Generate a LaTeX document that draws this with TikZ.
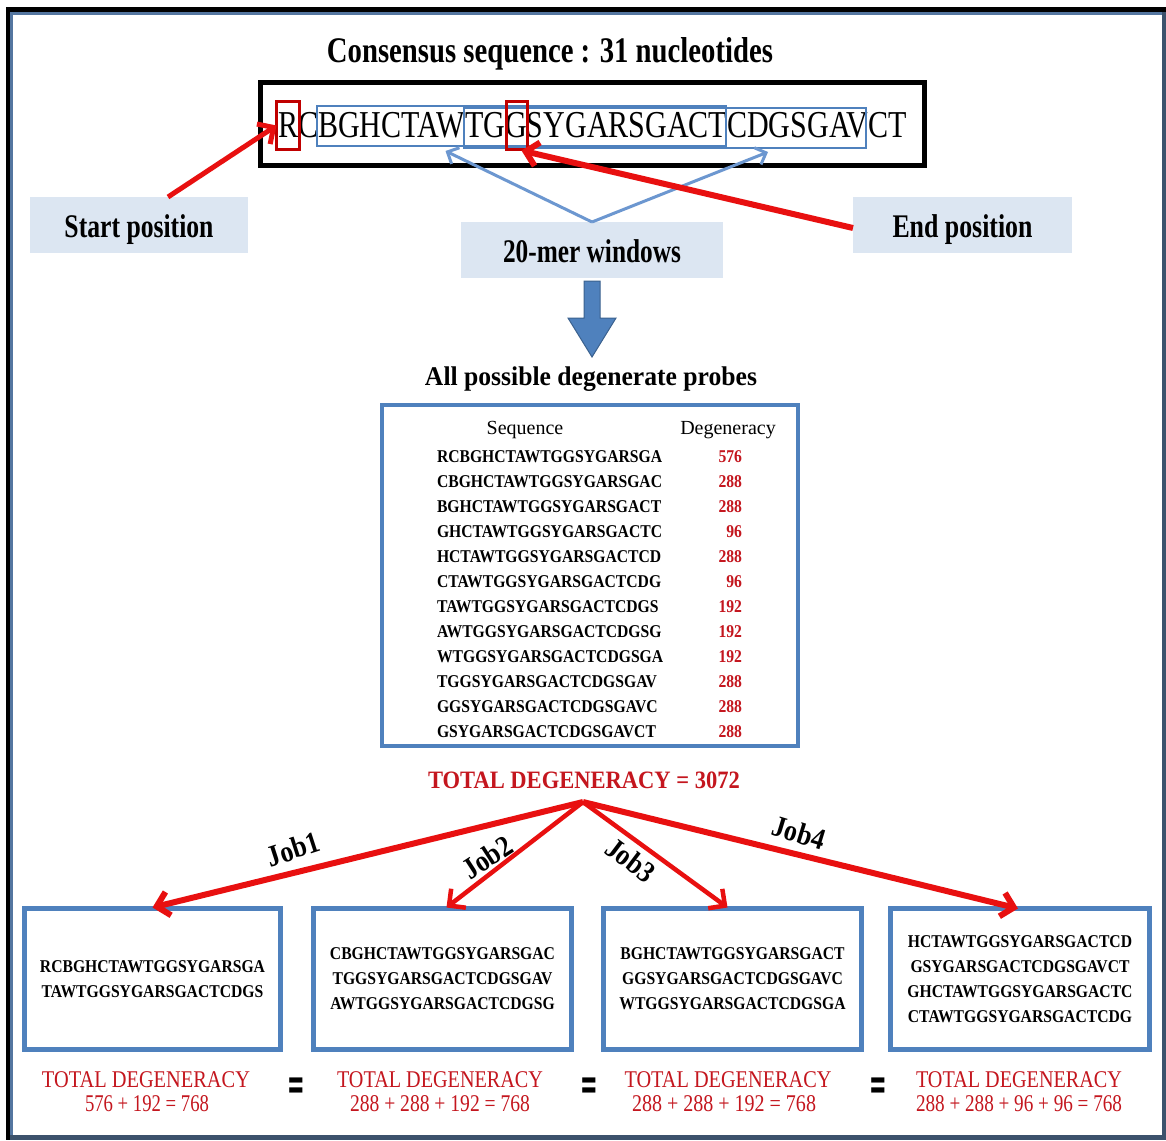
\documentclass[tikz,border=0pt]{standalone}
\usepackage{graphicx}
\usepackage{fontspec}
\setmainfont{Liberation Serif}
\newfontfamily\seqfam[FakeStretch=0.87]{Liberation Serif}
\newfontfamily\symfam{DejaVu Sans}
\usetikzlibrary{arrows.meta,calc}

\definecolor{officeblue}{RGB}{79,129,189}
\definecolor{arrowblue}{RGB}{108,151,208}
\definecolor{boxfill}{RGB}{220,230,242}
\definecolor{darkred}{RGB}{192,0,0}
\definecolor{txtred}{RGB}{196,22,30}
\definecolor{brightred}{RGB}{232,16,16}
\definecolor{frameslate}{RGB}{60,82,108}
\definecolor{frameline}{RGB}{84,118,160}

% stretch a text horizontally to a given width (in pt), keeping its height
\newcommand\fitw[2]{\resizebox{#1pt}{\height}{#2}}

\begin{document}
\begin{tikzpicture}[x=1pt,y=-1pt,
  every node/.style={inner sep=0pt,outer sep=0pt},
  lblbox/.style={fill=boxfill,minimum height=56pt},
  lbltxt/.style={anchor=base,font=\fontsize{33}{36}\selectfont\bfseries},
  redmark/.style={draw=darkred,line width=3pt,minimum height=48pt},
  winbox/.style={draw=officeblue,line width=2pt,minimum height=40pt},
  redarr/.style={draw=brightred,-{Straight Barb[length=12pt,width=24pt]}},
  bluearr/.style={draw=arrowblue,line width=3pt,-{Straight Barb[length=9pt,width=18pt]}},
  seqtxt/.style={font=\seqfam\bfseries\fontsize{18}{25}\selectfont},
  degtxt/.style={font=\seqfam\bfseries\fontsize{18}{25}\selectfont,text=txtred},
  hdrtxt/.style={anchor=base,font=\fontsize{20}{22}\selectfont},
  jobbox/.style={draw=officeblue,line width=5pt,minimum height=141pt,align=center,seqtxt},
  joblbl/.style={font=\seqfam\bfseries\fontsize{30}{32}\selectfont},
  sumtxt/.style={anchor=base,text=txtred,font=\fontsize{24}{26}\selectfont},
  eqsign/.style={font=\symfam\bfseries\fontsize{28}{28}\selectfont}
]
\useasboundingbox (0,0) rectangle (1166,1140);
\fill[white] (0,0) rectangle (1166,1140);
% frame
\fill[black] (6,7) rectangle (1166,1140);
\fill[frameslate] (10,12) rectangle (1166,1140);
\fill[frameline] (10,12) rectangle (1162,1135);
\fill[white] (13,15) rectangle (1162,1135);

% consensus sequence
\node[anchor=base] (title) at (550,63)
  {\fitw{446}{\fontsize{36}{40}\selectfont\bfseries Consensus sequence : 31 nucleotides}};
\node[draw=black,line width=5pt,minimum width=664pt,minimum height=83pt] (seqbox) at (592.5,124) {};
\node[anchor=base west] (seqtext) at (278,137)
  {\fitw{629}{\fontsize{38}{40}\selectfont RCBGHCTAWTGGSYGARSGACTCDGSGAVCT}};
\node[winbox,minimum width=409pt] (win1) at (521.5,126) {};
\node[winbox,minimum width=402pt] (win2) at (665,128) {};
\node[redmark,minimum width=23pt] (startR) at (288,125.5) {};
\node[redmark,minimum width=21pt] (endG) at (516.5,125.5) {};

% labels
\node[lblbox,minimum width=218pt] (startpos) at (139,225) {};
\node[lbltxt] (startposT) at (139,237) {\fitw{149}{Start position}};
\node[lblbox,minimum width=219pt] (endpos) at (962.5,225) {};
\node[lbltxt] (endposT) at (962.5,237) {\fitw{140}{End position}};
\node[lblbox,minimum width=262pt] (windows) at (592,250) {};
\node[lbltxt] (windowsT) at (592,262) {\fitw{178}{20-mer windows}};

% arrows to the sequence
\draw[bluearr] (windows.north) -- ([xshift=-76pt,yshift=-5pt]win1.south);
\draw[bluearr] (windows.north) -- ([xshift=103pt,yshift=-4pt]win2.south);
\draw[redarr,line width=5pt] ([xshift=29pt]startpos.north) -- (startR.west);
\draw[redarr,line width=6pt] ([yshift=-3pt]endpos.west) -- ([xshift=5pt,yshift=-1pt]endG.south);

% block arrow down
\coordinate (dtop) at ([yshift=-3pt]windows.south);
\filldraw[fill=officeblue,draw=officeblue!75!black,line width=1pt]
  ($(dtop)+(-8,0)$) -- ($(dtop)+(8,0)$) -- ($(dtop)+(8,37)$) -- ($(dtop)+(24,37)$)
  -- ($(dtop)+(0,76)$) -- ($(dtop)+(-24,37)$) -- ($(dtop)+(-8,37)$) -- cycle;

% table of probes
\node[anchor=base] (tabtitle) at (591,385)
  {\fitw{332}{\fontsize{27}{30}\selectfont\bfseries All possible degenerate probes}};
\node[draw=officeblue,line width=4pt,minimum width=416pt,minimum height=341pt] (table) at (590,575.5) {};
\node[hdrtxt] (hdrseq) at (525,434) {Sequence};
\node[hdrtxt] (hdrdeg) at (728,434) {Degeneracy};
\foreach \s/\d [count=\i] in {
  RCBGHCTAWTGGSYGARSGA/576, CBGHCTAWTGGSYGARSGAC/288, BGHCTAWTGGSYGARSGACT/288,
  GHCTAWTGGSYGARSGACTC/96, HCTAWTGGSYGARSGACTCD/288, CTAWTGGSYGARSGACTCDG/96,
  TAWTGGSYGARSGACTCDGS/192, AWTGGSYGARSGACTCDGSG/192, WTGGSYGARSGACTCDGSGA/192,
  TGGSYGARSGACTCDGSGAV/288, GGSYGARSGACTCDGSGAVC/288, GSYGARSGACTCDGSGAVCT/288}{
  \node[seqtxt,anchor=base west] (seq\i) at (437,437+25*\i) {\s};
  \node[degtxt,anchor=base east] (deg\i) at (742,437+25*\i) {\d};
}
\node[anchor=base,text=txtred] (total) at (584,788)
  {\fitw{312}{\fontsize{25}{28}\selectfont\bfseries TOTAL DEGENERACY = 3072}};
\coordinate (apex) at (583,802);

% job boxes
\node[jobbox,minimum width=256pt] (B1) at (152.5,979)
  {RCBGHCTAWTGGSYGARSGA\\TAWTGGSYGARSGACTCDGS};
\node[jobbox,minimum width=258pt] (B2) at (442.5,979)
  {CBGHCTAWTGGSYGARSGAC\\TGGSYGARSGACTCDGSGAV\\AWTGGSYGARSGACTCDGSG};
\node[jobbox,minimum width=258pt] (B3) at (732.5,979)
  {BGHCTAWTGGSYGARSGACT\\GGSYGARSGACTCDGSGAVC\\WTGGSYGARSGACTCDGSGA};
\node[jobbox,minimum width=259pt] (B4) at (1020,979)
  {HCTAWTGGSYGARSGACTCD\\GSYGARSGACTCDGSGAVCT\\GHCTAWTGGSYGARSGACTC\\CTAWTGGSYGARSGACTCDG};

\draw[redarr,line width=6pt] (apex) -- ([yshift=1pt]B1.north);
\draw[redarr,line width=4.5pt] (apex) -- ([xshift=4pt,yshift=1pt]B2.north);
\draw[redarr,line width=4.5pt] (apex) -- ([xshift=-5pt,yshift=1pt]B3.north);
\draw[redarr,line width=6pt] (apex) -- ([xshift=-2pt]B4.north);

\node[joblbl,rotate=18] (job1) at (293,849) {Job1};
\node[joblbl,rotate=33] (job2) at (487,857) {Job2};
\node[joblbl,rotate=-37] (job3) at (631,860) {Job3};
\node[joblbl,rotate=-17] (job4) at (799,833) {Job4};

% sums per job
\node[sumtxt] (sum1a) at (146,1087) {\fitw{208}{TOTAL DEGENERACY}};
\node[sumtxt] (sum1b) at (147,1111) {\fitw{124}{576 + 192 = 768}};
\node[sumtxt] (sum2a) at (440,1087) {\fitw{206}{TOTAL DEGENERACY}};
\node[sumtxt] (sum2b) at (440,1111) {\fitw{180}{288 + 288 + 192 = 768}};
\node[sumtxt] (sum3a) at (728,1087) {\fitw{207}{TOTAL DEGENERACY}};
\node[sumtxt] (sum3b) at (724,1111) {\fitw{184}{288 + 288 + 192 = 768}};
\node[sumtxt] (sum4a) at (1019,1087) {\fitw{206}{TOTAL DEGENERACY}};
\node[sumtxt] (sum4b) at (1019,1111) {\fitw{206}{288 + 288 + 96 + 96 = 768}};

\node[eqsign] (eq1) at (296,1089) {\scalebox{0.75}[1.6]{=}};
\node[eqsign] (eq2) at (589,1089) {\scalebox{0.75}[1.6]{=}};
\node[eqsign] (eq3) at (878,1089) {\scalebox{0.75}[1.6]{=}};
\end{tikzpicture}
\end{document}
